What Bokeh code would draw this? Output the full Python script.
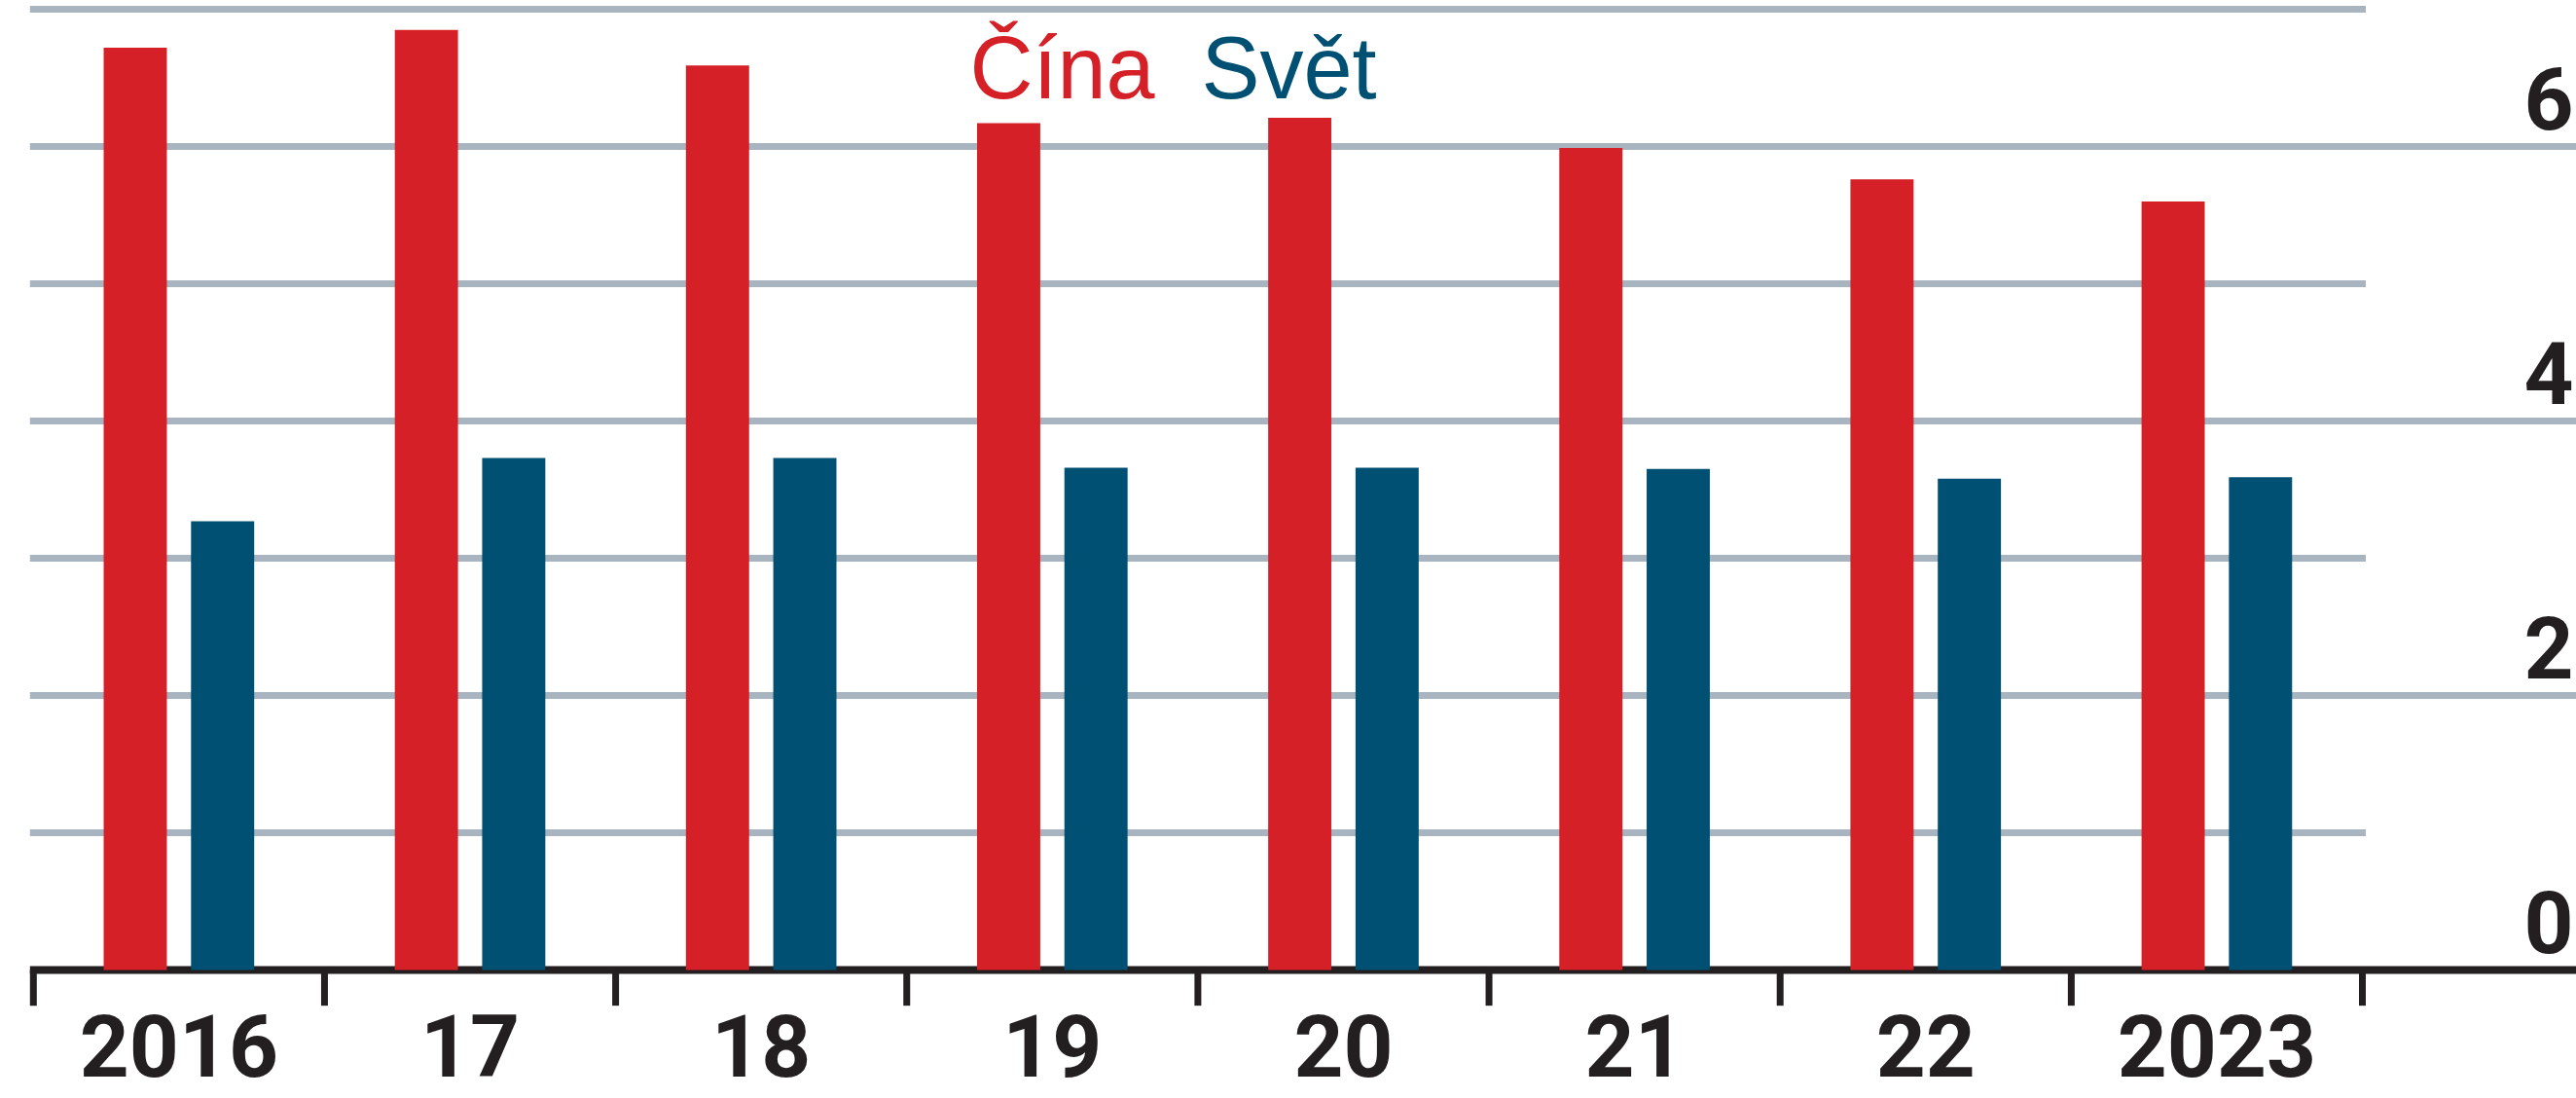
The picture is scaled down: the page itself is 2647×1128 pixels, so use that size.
from bokeh.plotting import figure
from bokeh.models import Range1d, ColumnDataSource
from bokeh.embed import file_html
from bokeh.resources import INLINE
from bokeh.core.properties import value

# ---- data ----
years = ["2016", "17", "18", "19", "20", "21", "22", "2023"]
china = [6.72, 6.85, 6.59, 6.17, 6.21, 5.99, 5.76, 5.60]
world = [3.27, 3.73, 3.73, 3.66, 3.66, 3.65, 3.58, 3.59]
y_ticks = [0, 2, 4, 6]
y_tick_labels = ["0", "2", "4", "6"]
grid_values = [1, 2, 3, 4, 5, 6, 7]
series_names = ["Čína", "Svět"]

# ---- styles ----
RED = "#D52027"
BLUE = "#005073"
GRID = "#A8B5C0"
INK = "#231F20"
TICK_FONT = "Roboto"
TICK_SIZE = 89
LEG_SIZE = 90

W, H = 2647, 1128
n = len(years)
# layout: category k boundary at 33.8 + 299.15*k px, value 0 at 996 px, 141 px per unit
x_start, x_end = -33.8 / 299.15, (W - 33.8) / 299.15
y_start, y_end = (996 - H) / 141.0, 996 / 141.0

p = figure(width=W, height=H,
           x_range=Range1d(x_start, x_end), y_range=Range1d(y_start, y_end),
           output_backend="svg", toolbar_location=None,
           x_axis_location=None, y_axis_location=None,
           min_border=0, min_border_left=0, min_border_right=0,
           min_border_top=0, min_border_bottom=0)
p.outline_line_color = None
p.xgrid.visible = False
p.ygrid.visible = False
p.background_fill_color = "white"
p.border_fill_color = "white"

# gridlines: even values reach the right edge, odd values stop at the last tick
line_left = -0.0117
g_x0 = [line_left] * len(grid_values)
g_x1 = [x_end if v % 2 == 0 else n + 0.0117 for v in grid_values]
p.segment(x0=g_x0, y0=grid_values, x1=g_x1, y1=grid_values,
          line_color=GRID, line_width=7, line_cap="butt")

# baseline and category ticks
p.segment(x0=[line_left], y0=[0], x1=[x_end], y1=[0],
          line_color=INK, line_width=8, line_cap="butt")
tick_x = list(range(n + 1))
p.segment(x0=tick_x, y0=[0] * len(tick_x), x1=tick_x, y1=[-0.26] * len(tick_x),
          line_color=INK, line_width=7, line_cap="butt")

# bars
centers = [i + 0.5 for i in range(n)]
src = ColumnDataSource(dict(x=centers, china=china, world=world, label=years))
p.vbar(x=[c - 0.15 for c in centers], top=china, bottom=0, width=0.217,
       fill_color=RED, line_color=None)
p.vbar(x=[c + 0.15 for c in centers], top=world, bottom=0, width=0.217,
       fill_color=BLUE, line_color=None)

# text baseline correction observed with the svg backend (~0.38 em)
def shift(size):
    return 0.38 * size

# x category labels (baseline kept inside the picture)
p.text(x="x", y=(996 - (1107 - shift(TICK_SIZE))) / 141.0, text="label", source=src,
       text_font=value(TICK_FONT), text_font_style="bold",
       text_font_size=f"{TICK_SIZE}px",
       text_color=INK, text_align="center", text_baseline="alphabetic")

# y tick labels (right side, above their gridline)
p.text(x=[(2644 - 33.8) / 299.15] * len(y_ticks), y=y_ticks, text=y_tick_labels,
       y_offset=-(16 + shift(TICK_SIZE)),
       text_font=value(TICK_FONT), text_font_style="bold",
       text_font_size=f"{TICK_SIZE}px",
       text_color=INK, text_align="right", text_baseline="alphabetic")

# legend words (baseline at ~103 px)
leg_y = (996 - (104 - shift(LEG_SIZE))) / 141.0
p.text(x=[(996 - 33.8) / 299.15, (1234 - 33.8) / 299.15], y=[leg_y, leg_y],
       text=series_names, text_color=[RED, BLUE],
       text_font=value("Liberation Sans"), text_font_size=f"{LEG_SIZE}px",
       text_align="left", text_baseline="alphabetic")

open("out.html", "w").write(file_html(p, INLINE))
